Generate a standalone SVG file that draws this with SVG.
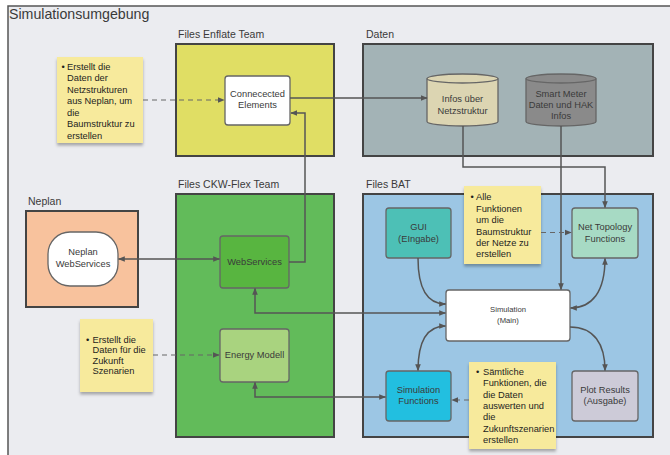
<svg xmlns="http://www.w3.org/2000/svg" width="670" height="455" viewBox="0 0 670 455">
<defs>
<style>
text{font-family:"Liberation Sans",Arial,sans-serif;fill:#3a3a3a}
.lbl{font-size:10.5px}
.t{font-size:9.3px;text-anchor:middle}
.s{font-size:9.3px;fill:#1e1e1e}
.cont{stroke:#444;stroke-width:2}
.node{stroke:#666;stroke-width:1.3}
.sticky{fill:#f7ea9c;filter:url(#sh)}
.c{fill:none;stroke:#555;stroke-width:1.5}
.d{fill:none;stroke:#666;stroke-width:1.2;stroke-dasharray:5 4}
</style>
<marker id="a" viewBox="0 0 10 10" refX="9" refY="5" markerWidth="7" markerHeight="7" orient="auto-start-reverse" markerUnits="userSpaceOnUse"><path d="M0,1 L10,5 L0,9 z" fill="#555"/></marker>
<filter id="sh" x="-10%" y="-10%" width="125%" height="130%"><feDropShadow dx="0" dy="2.5" stdDeviation="1.5" flood-color="#000" flood-opacity="0.3"/></filter>
</defs>
<rect x="0" y="0" width="670" height="455" fill="#fff"/>
<rect x="8" y="6" width="700" height="500" fill="#ebecf0" stroke="#555" stroke-width="1.5"/>
<text x="9" y="19" style="font-size:14.2px">Simulationsumgebung</text>

<g id="enflate"><text class="lbl" x="178" y="37.5">Files Enflate Team</text><rect class="cont" x="176" y="44" width="158" height="112" fill="#e0de64"/></g>
<g id="daten"><text class="lbl" x="366" y="37.5">Daten</text><rect class="cont" x="363" y="44" width="290" height="112" fill="#a3b3b6"/></g>
<g id="ckw"><text class="lbl" x="178" y="188">Files CKW-Flex Team</text><rect class="cont" x="176" y="194" width="158" height="243" fill="#62bb5a"/></g>
<g id="neplan"><text class="lbl" x="28" y="205">Neplan</text><rect class="cont" x="26" y="211" width="112" height="96" fill="#f8c29d"/></g>
<g id="bat"><text class="lbl" x="366" y="188">Files BAT</text><rect class="cont" x="363" y="194" width="290" height="243" fill="#9cc6e4"/></g>

<g id="connected"><rect class="node" x="225" y="76" width="65" height="49" rx="3" fill="#fff"/><text class="t" x="257.5" y="96.5">Connecected</text><text class="t" x="257.5" y="108">Elements</text></g>
<g id="infos"><path class="node" d="M427,78.5 V121.5 A35.5,4.5 0 0 0 498,121.5 V78.5" fill="#dcd5b2"/><ellipse class="node" cx="462.5" cy="78.5" rx="35.5" ry="4.5" fill="#dcd5b2"/><text class="t" x="462.5" y="102">Infos über</text><text class="t" x="462.5" y="114">Netzstruktur</text></g>
<g id="smartmeter"><path class="node" d="M526,78.5 V121.5 A35,4.5 0 0 0 596,121.5 V78.5" fill="#8a8a8a"/><ellipse class="node" cx="561" cy="78.5" rx="35" ry="4.5" fill="#8a8a8a"/><text class="t" x="561" y="96.5">Smart Meter</text><text class="t" x="561" y="107.5">Daten und HAK</text><text class="t" x="561" y="118.5">Infos</text></g>
<g id="neplanws"><rect class="node" x="48" y="232" width="70" height="54" rx="22" fill="#fff"/><text class="t" x="83" y="255">Neplan</text><text class="t" x="83" y="266.5">WebServices</text></g>
<g id="webservices"><rect class="node" x="220" y="236" width="69" height="52" rx="3" fill="#58b540"/><text class="t" x="254.5" y="264.5">WebServices</text></g>
<g id="energy"><rect class="node" x="220" y="329" width="69" height="53" rx="3" fill="#a9d37f"/><text class="t" x="254.5" y="358">Energy Modell</text></g>
<g id="gui"><rect class="node" x="386" y="208" width="65" height="50" rx="3" fill="#4dc0b6"/><text class="t" x="418.5" y="230">GUI</text><text class="t" x="418.5" y="241.5">(EIngabe)</text></g>
<g id="nettopo"><rect class="node" x="572" y="208" width="66" height="50" rx="3" fill="#a7dac4"/><text class="t" x="605" y="230">Net Topology</text><text class="t" x="605" y="241.5">Functions</text></g>
<g id="simulation"><rect class="node" x="446" y="290" width="124" height="51" rx="3" fill="#fff"/><text class="t" x="508" y="312" style="font-size:7.7px">Simulation</text><text class="t" x="508" y="322.5" style="font-size:7.7px">(Main)</text></g>
<g id="simfunc"><rect class="node" x="386" y="371" width="65" height="50" rx="3" fill="#22bfe0"/><text class="t" x="418.5" y="392.5">Simulation</text><text class="t" x="418.5" y="404">Functions</text></g>
<g id="plot"><rect class="node" x="572" y="371" width="66" height="50" rx="3" fill="#cdcbd8"/><text class="t" x="605" y="392.5">Plot Results</text><text class="t" x="605" y="404">(Ausgabe)</text></g>

<g id="note1"><rect class="sticky" x="57" y="57" width="86" height="86"/><text class="s"><tspan x="61.5" y="69.5">•</tspan><tspan x="67" y="69.5">Erstellt die</tspan><tspan x="67" y="81">Daten der</tspan><tspan x="67" y="92.5">Netzstrukturen</tspan><tspan x="67" y="104">aus Neplan, um</tspan><tspan x="67" y="115.5">die</tspan><tspan x="67" y="127">Baumstruktur zu</tspan><tspan x="67" y="138.5">erstellen</tspan></text></g>
<g id="note2"><rect class="sticky" x="80" y="319" width="73" height="73"/><text class="s"><tspan x="86" y="342.5">•</tspan><tspan x="92.5" y="342.5">Erstellt die</tspan><tspan x="92.5" y="353">Daten für die</tspan><tspan x="92.5" y="363.5">Zukunft</tspan><tspan x="92.5" y="374">Szenarien</tspan></text></g>
<g id="note3"><rect class="sticky" x="464" y="186" width="77" height="78"/><text class="s"><tspan x="470.5" y="200">•</tspan><tspan x="476" y="200">Alle</tspan><tspan x="476" y="211.5">Funktionen</tspan><tspan x="476" y="223">um die</tspan><tspan x="476" y="234.5">Baumstruktur</tspan><tspan x="476" y="246">der Netze zu</tspan><tspan x="476" y="257">erstellen</tspan></text></g>
<g id="note4"><rect class="sticky" x="469" y="362" width="87" height="87"/><text class="s"><tspan x="476" y="374.5">•</tspan><tspan x="483" y="374.5">Sämtliche</tspan><tspan x="483" y="386">Funktionen, die</tspan><tspan x="483" y="397.5">die Daten</tspan><tspan x="483" y="409">auswerten und</tspan><tspan x="483" y="420">die</tspan><tspan x="483" y="431.5">Zukunftszenarien</tspan><tspan x="483" y="443">erstellen</tspan></text></g>

<g id="connectors">
<path class="c" d="M290,98 H427" marker-end="url(#a)"/>
<path class="c" d="M289,262 H305 V113 H291" marker-end="url(#a)"/>
<path class="c" d="M463,126 V167 H605 V207.5" marker-end="url(#a)"/>
<path class="c" d="M561,126 V289.5" marker-end="url(#a)"/>
<path class="c" d="M118.5,259 H219.5" marker-start="url(#a)" marker-end="url(#a)"/>
<path class="c" d="M255,288.5 V313 H445.5" marker-start="url(#a)" marker-end="url(#a)"/>
<path class="c" d="M255,382.5 V397 H385.5" marker-start="url(#a)" marker-end="url(#a)"/>
<path class="c" d="M418,258 C418,290 428,304 445.5,304"/>
<path class="c" d="M440,304 H445.5" marker-end="url(#a)"/>
<path class="c" d="M605,258.5 C605,292 592,308 570.5,308" marker-start="url(#a)" marker-end="url(#a)"/>
<path class="c" d="M445.5,326 C428,326 418,340 418,370.5" marker-start="url(#a)" marker-end="url(#a)"/>
<path class="c" d="M570,327 C594,327 605,344 605,370.5" marker-end="url(#a)"/>
<path class="d" d="M143,100 H224" marker-end="url(#a)"/>
<path class="d" d="M153,355 H219" marker-end="url(#a)"/>
<path class="d" d="M541,232.5 H571" marker-end="url(#a)"/>
<path class="d" d="M469,400 H452" marker-end="url(#a)"/>
</g>
</svg>
